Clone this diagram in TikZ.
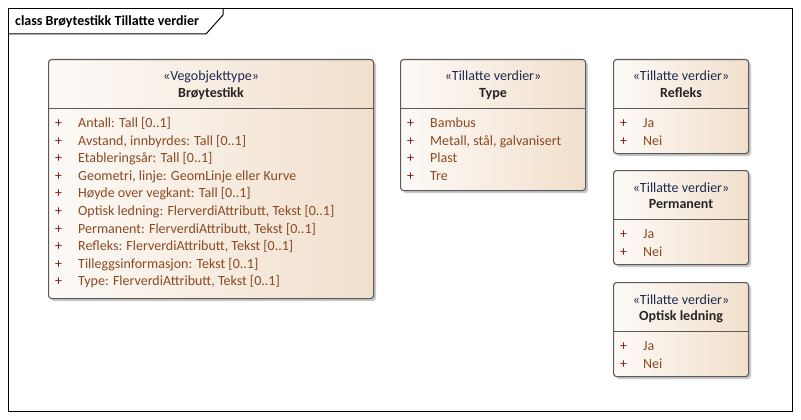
\documentclass[tikz,border=0pt]{standalone}
\usepackage{fontspec}
\setmainfont{Carlito}
\usetikzlibrary{calc}
\usetikzlibrary{positioning}
\usetikzlibrary{shadows}

\definecolor{boxleft}{HTML}{FDFAF7}
\definecolor{boxright}{HTML}{F1DFCC}
\definecolor{boxline}{HTML}{5A5A5A}
\definecolor{stereo}{HTML}{1F2A4F}
\definecolor{attr}{HTML}{8B4A22}
\definecolor{plus}{HTML}{8B1A1A}

\newcommand{\pl}{\makebox[23pt][l]{\textcolor{plus}{+}}}

\begin{document}
\begin{tikzpicture}[x=1pt, y=-1pt,
    cls/.style={draw=boxline, line width=1.1pt, rounded corners=3pt,
        left color=boxleft, right color=boxright, anchor=north west,
        inner sep=0pt,
        drop shadow={shadow xshift=2.5pt, shadow yshift=-2.5pt, fill=black!22, opacity=1}},
    sep/.style={draw=boxline, line width=1pt},
    frame/.style={draw=black, line width=1pt},
    ster/.style={anchor=base, inner sep=0pt, text=stereo, font=\fontsize{14}{16}\selectfont},
    nm/.style={anchor=base, inner sep=0pt, text=black!85, font=\fontsize{14}{16}\selectfont\bfseries},
    itm/.style={anchor=base west, inner sep=0pt, text=attr, font=\fontsize{14}{16}\selectfont},
    ttl/.style={anchor=base west, inner sep=0pt, font=\fontsize{14}{16}\selectfont\bfseries}
]
\useasboundingbox (0,0) rectangle (801,420);

% Diagram frame with name tab
\draw[frame] (8.5,8.5) rectangle (792.5,411.5);
\draw[frame] (8.5,34) -- (206,34) -- (223,15) -- (223,8.5);
\node[ttl] (title) at (15,26) {class Brøytestikk Tillatte verdier};

% Class boxes
\node[cls, minimum width=325pt, minimum height=239pt] (B) at (48,59) {};
\node[cls, minimum width=185pt, minimum height=131pt] (T) at (400,59) {};
\node[cls, minimum width=135pt, minimum height=94pt] (R) at (613,59) {};
\node[cls, minimum width=135pt, minimum height=94pt] (P) at (613,170) {};
\node[cls, minimum width=135pt, minimum height=94pt] (O) at (613,282) {};

% Compartment lines
\draw[sep] ($(B.north west)+(0,49.5)$) -- ($(B.north east)+(0,49.5)$);
\draw[sep] ($(T.north west)+(0,49.5)$) -- ($(T.north east)+(0,49.5)$);
\draw[sep] ($(R.north west)+(0,49.5)$) -- ($(R.north east)+(0,49.5)$);
\draw[sep] ($(P.north west)+(0,49.5)$) -- ($(P.north east)+(0,49.5)$);
\draw[sep] ($(O.north west)+(0,49.5)$) -- ($(O.north east)+(0,49.5)$);

% Brøytestikk
\node[ster] (Bs) at ($(B.north)+(0,22)$) {«Vegobjekttype»};
\node[nm] (Bn) at ($(B.north)+(0,38.5)$) {Brøytestikk};
\node[itm] (b1) at ($(B.north west)+(7,68.5)$) {\pl Antall: Tall [0..1]};
\node[itm] (b2) at ($(B.north west)+(7,86.1)$) {\pl Avstand, innbyrdes: Tall [0..1]};
\node[itm] (b3) at ($(B.north west)+(7,103.7)$) {\pl Etableringsår: Tall [0..1]};
\node[itm] (b4) at ($(B.north west)+(7,121.3)$) {\pl Geometri, linje: GeomLinje eller Kurve};
\node[itm] (b5) at ($(B.north west)+(7,138.9)$) {\pl Høyde over vegkant: Tall [0..1]};
\node[itm] (b6) at ($(B.north west)+(7,156.5)$) {\pl Optisk ledning: FlerverdiAttributt, Tekst [0..1]};
\node[itm] (b7) at ($(B.north west)+(7,174.1)$) {\pl Permanent: FlerverdiAttributt, Tekst [0..1]};
\node[itm] (b8) at ($(B.north west)+(7,191.7)$) {\pl Refleks: FlerverdiAttributt, Tekst [0..1]};
\node[itm] (b9) at ($(B.north west)+(7,209.3)$) {\pl Tilleggsinformasjon: Tekst [0..1]};
\node[itm] (b10) at ($(B.north west)+(7,226.9)$) {\pl Type: FlerverdiAttributt, Tekst [0..1]};

% Type
\node[ster] (Ts) at ($(T.north)+(0,22)$) {«Tillatte verdier»};
\node[nm] (Tn) at ($(T.north)+(0,38.5)$) {Type};
\node[itm] (t1) at ($(T.north west)+(7,68.5)$) {\pl Bambus};
\node[itm] (t2) at ($(T.north west)+(7,86.1)$) {\pl Metall, stål, galvanisert};
\node[itm] (t3) at ($(T.north west)+(7,103.7)$) {\pl Plast};
\node[itm] (t4) at ($(T.north west)+(7,121.3)$) {\pl Tre};

% Refleks
\node[ster] (Rs) at ($(R.north)+(0,22)$) {«Tillatte verdier»};
\node[nm] (Rn) at ($(R.north)+(0,38.5)$) {Refleks};
\node[itm] (r1) at ($(R.north west)+(7,68.5)$) {\pl Ja};
\node[itm] (r2) at ($(R.north west)+(7,86.1)$) {\pl Nei};

% Permanent
\node[ster] (Ps) at ($(P.north)+(0,22)$) {«Tillatte verdier»};
\node[nm] (Pn) at ($(P.north)+(0,38.5)$) {Permanent};
\node[itm] (p1) at ($(P.north west)+(7,68.5)$) {\pl Ja};
\node[itm] (p2) at ($(P.north west)+(7,86.1)$) {\pl Nei};

% Optisk ledning
\node[ster] (Os) at ($(O.north)+(0,22)$) {«Tillatte verdier»};
\node[nm] (On) at ($(O.north)+(0,38.5)$) {Optisk ledning};
\node[itm] (o1) at ($(O.north west)+(7,68.5)$) {\pl Ja};
\node[itm] (o2) at ($(O.north west)+(7,86.1)$) {\pl Nei};

\end{tikzpicture}
\end{document}
